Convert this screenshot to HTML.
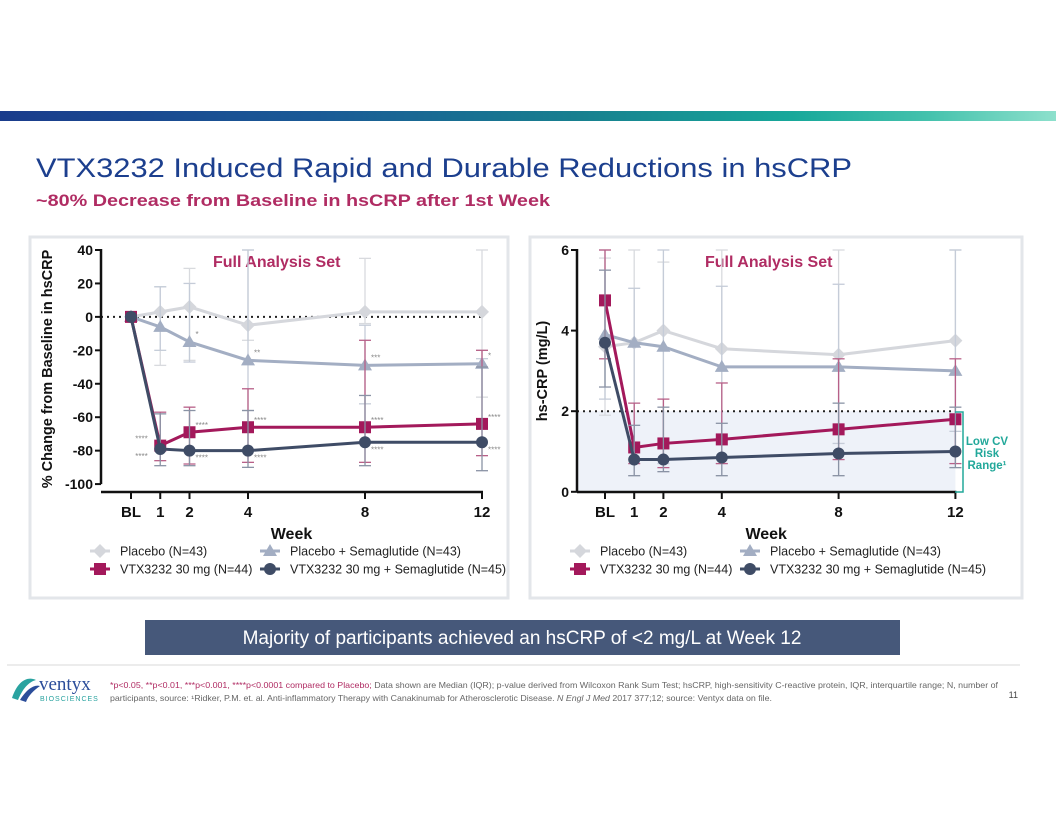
<!DOCTYPE html>
<html><head><meta charset="utf-8">
<style>
body{margin:0;width:1056px;height:816px;background:#fff;overflow:hidden;font-family:"Liberation Sans",sans-serif;position:relative}
.abs{position:absolute}
</style></head>
<body>
<div class="abs" style="left:0;top:111px;width:1056px;height:10px;background:linear-gradient(90deg,#1a3c8c 0%,#1a5a96 30%,#17808f 55%,#17a89a 75%,#45c2ad 88%,#8de0cc 100%)"></div>
<svg class="abs" style="left:0;top:0" width="1056" height="816">
<text x="36" y="177" font-size="27" fill="#1c3f8e" textLength="816" lengthAdjust="spacingAndGlyphs">VTX3232 Induced Rapid and Durable Reductions in hsCRP</text>
<text x="36" y="206" font-size="17" font-weight="bold" fill="#b02c63" textLength="514" lengthAdjust="spacingAndGlyphs">~80% Decrease from Baseline in hsCRP after 1st Week</text>
<rect x="30" y="237" width="478" height="361" fill="#fff" stroke="#e3e6ea" stroke-width="3"/>
<rect x="530" y="237" width="492" height="361" fill="#fff" stroke="#e3e6ea" stroke-width="3"/>
<g id="left"></g>
<g id="right"></g>
<rect x="145" y="620" width="755" height="35" fill="#46587a"/>
<text x="522" y="644" font-size="19" fill="#fff" text-anchor="middle">Majority of participants achieved an hsCRP of &lt;2 mg/L at Week 12</text>
<line x1="7" y1="665" x2="1020" y2="665" stroke="#e6e6e6" stroke-width="1.5"/>
<g>
<path d="M12 698 C18 680 28 676 36 680 C28 682 22 690 18 700 Z" fill="#2aa3a0"/>
<path d="M20 700 C26 690 34 684 40 686 C34 690 28 696 26 702 Z" fill="#2b4d9a"/>
<text x="39" y="690" font-size="19" font-family="Liberation Serif,serif" fill="#2b4d9a">ventyx</text>
<text x="40" y="701" font-size="7" fill="#2aa3a0" letter-spacing="1">BIOSCIENCES</text>
</g>
<text x="110" y="688" font-size="8.2" fill="#666" textLength="888" lengthAdjust="spacingAndGlyphs"><tspan fill="#b02c63">*p&lt;0.05, **p&lt;0.01, ***p&lt;0.001, ****p&lt;0.0001 compared to Placebo;</tspan> Data shown are Median (IQR); p-value derived from Wilcoxon Rank Sum Test; hsCRP, high-sensitivity C-reactive protein, IQR, interquartile range; N, number of</text>
<text x="110" y="701" font-size="8.2" fill="#666" textLength="662" lengthAdjust="spacingAndGlyphs">participants, source: ¹Ridker, P.M. et. al. Anti-inflammatory Therapy with Canakinumab for Atherosclerotic Disease. <tspan font-style="italic">N Engl J Med</tspan> 2017 377;12; source: Ventyx data on file.</text>
<text x="1018" y="698" font-size="9" fill="#444" text-anchor="end">11</text>
</svg>
<script>
const weeks=[0,1,2,4,8,12];
const weekLabels=["BL","1","2","4","8","12"];
// Left chart: % change from baseline
const leftTicks=[40,20,0,-20,-40,-60,-80,-100];
const leftPlacebo=[0,3,6,-5,3,3];
const leftPlaSema=[0,-6,-15,-26,-29,-28];
const leftVtx=[0,-77,-69,-66,-66,-64];
const leftVtxSema=[0,-79,-80,-80,-75,-75];
const leftPlaceboLo=[0,-29,-26,-14,-4,-48];const leftPlaceboHi=[0,18,29,40,35,40];
const leftPlaSemaLo=[0,-20,-27,-56,-52,-25];const leftPlaSemaHi=[0,18,20,40,-5,-20];
const leftVtxLo=[0,-86,-88,-87,-87,-83];const leftVtxHi=[0,-57,-54,-43,-14,-20];
const leftVtxSemaLo=[0,-89,-89,-90,-89,-92];const leftVtxSemaHi=[0,-58,-56,-56,-47,-30];
const leftStarsVtx=["","****","****","****","****","****"];
const leftStarsVtxSema=["","****","****","****","****","****"];
const leftStarsPlaSema=["","","*","**","***","*"];
// Right chart: hs-CRP mg/L
const rightTicks=[6,4,2,0];
const rightPlacebo=[3.6,3.7,4.0,3.55,3.4,3.75];
const rightPlaSema=[3.9,3.7,3.6,3.1,3.1,3.0];
const rightVtx=[4.75,1.1,1.2,1.3,1.55,1.8];
const rightVtxSema=[3.7,0.8,0.8,0.85,0.95,1.0];
const rightPlaceboLo=[1.9,0.4,0.5,0.4,0.4,0.6];const rightPlaceboHi=[5.8,6,5.7,6,6,6];
const rightPlaSemaLo=[2.3,0.8,0.7,0.7,1.2,1.5];const rightPlaSemaHi=[6,5.05,6,5.1,5.15,6];
const rightVtxLo=[3.3,0.7,0.6,0.7,0.8,0.7];const rightVtxHi=[6,2.2,2.3,2.7,3.3,3.3];
const rightVtxSemaLo=[2.6,0.4,0.5,0.4,0.4,0.6];const rightVtxSemaHi=[5.5,1.65,2.1,1.7,2.2,2.1];

const NS="http://www.w3.org/2000/svg";
const C={pla:"#d5d7dc",ps:"#a3aec3",vtx:"#a3195b",vs:"#3f4c66"};
function mk(p,t,a){const e=document.createElementNS(NS,t);for(const k in a)e.setAttribute(k,a[k]);p.appendChild(e);return e;}
function marker(g,type,x,y,c){
 if(type==="d")return mk(g,"path",{d:`M${x} ${y-7}L${x+7} ${y}L${x} ${y+7}L${x-7} ${y}Z`,fill:c});
 if(type==="t")return mk(g,"path",{d:`M${x} ${y-7}L${x+7} ${y+5}L${x-7} ${y+5}Z`,fill:c});
 if(type==="s")return mk(g,"rect",{x:x-6,y:y-6,width:12,height:12,fill:c});
 return mk(g,"circle",{cx:x,cy:y,r:6,fill:c});
}
function chart(g,o){
 const X=w=>o.x0+w*o.px, Y=v=>o.y0+(o.vmax-v)*o.py;
 if(o.band){const r=mk(g,"rect",{x:o.ax,y:Y(2),width:X(12)-o.ax,height:Y(0)-Y(2),fill:"#eef2f9"});
  
  }
 const ref=mk(g,"line",{x1:o.ax,x2:X(12),y1:Y(o.refv),y2:Y(o.refv),stroke:"#222","stroke-width":2,"stroke-dasharray":"2 4"});
 
 
 const ya=mk(g,"line",{x1:o.ax,x2:o.ax,y1:Y(o.vmax)-1,y2:Y(o.vmin),stroke:"#111","stroke-width":2.5});
 
 
 o.ticks.forEach(t=>{mk(g,"line",{x1:o.ax-6,x2:o.ax,y1:Y(t),y2:Y(t),stroke:"#111","stroke-width":2});
  const tx=mk(g,"text",{x:o.ax-8,y:Y(t)+5,"font-size":14,"font-weight":"bold","text-anchor":"end",fill:"#111"});tx.textContent=t;
  
  });
 const xa=mk(g,"line",{x1:o.ax,x2:X(12)+1,y1:o.xaxY,y2:o.xaxY,stroke:"#111","stroke-width":2.5});
 
 
 weeks.forEach((w,i)=>{mk(g,"line",{x1:X(w),x2:X(w),y1:o.xaxY,y2:o.xaxY+7,stroke:"#111","stroke-width":2});
  const tx=mk(g,"text",{x:X(w),y:o.xaxY+25,"font-size":15,"font-weight":"bold","text-anchor":"middle",fill:"#111"});tx.textContent=weekLabels[i];
  
  });
 const wt=mk(g,"text",{x:(o.ax+X(12))/2,y:o.xaxY+47,"font-size":16,"font-weight":"bold","text-anchor":"middle",fill:"#111"});wt.textContent="Week";
 
 
 const yt=mk(g,"text",{x:0,y:0,"font-size":14.5,"font-weight":"bold","text-anchor":"middle",fill:"#111",transform:`translate(${o.ytx},${o.yty}) rotate(-90)`});yt.textContent=o.ytitle;
 
 
 const ft=mk(g,"text",{x:o.ftx,y:Y(o.vmax)+17,"font-size":16,"font-weight":"bold",fill:"#b02c63"});ft.textContent="Full Analysis Set";
 
 
 o.series.forEach(s=>{
  const sg=mk(g,"g",{});
  
  
  weeks.forEach((w,i)=>{if(s.lo[i]===s.hi[i])return;const x=X(w);
   mk(sg,"line",{x1:x,x2:x,y1:Y(Math.min(s.hi[i],o.vmax)),y2:Y(s.lo[i]),stroke:s.ec,"stroke-width":1.3});
   [s.lo[i],s.hi[i]].forEach(v=>{if(v<=o.vmax&&v>o.vmin)mk(sg,"line",{x1:x-6,x2:x+6,y1:Y(v),y2:Y(v),stroke:s.ec,"stroke-width":1.3});});});
  mk(sg,"polyline",{points:weeks.map((w,i)=>X(w)+","+Y(s.v[i])).join(" "),fill:"none",stroke:s.c,"stroke-width":3});
  weeks.forEach((w,i)=>{const m=marker(sg,s.m,X(w),Y(s.v[i]),s.c);
   
   });
  if(s.stars)weeks.forEach((w,i)=>{if(!s.stars[i])return;const t=mk(sg,"text",{x:X(w)+(i===1?-25:6),y:Y(s.v[i])+s.sdy,"font-size":8,fill:"#888","text-anchor":i===1?"start":"start"});t.textContent=s.stars[i];});
 });
 const leg=[["d",C.pla,"Placebo (N=43)",0,0],["t",C.ps,"Placebo + Semaglutide (N=43)",1,0],["s",C.vtx,"VTX3232 30 mg (N=44)",0,1],["c",C.vs,"VTX3232 30 mg + Semaglutide (N=45)",1,1]];
 leg.forEach(l=>{const lg=mk(g,"g",{});
  
  
  const lx=o.lx+l[3]*o.lcol, ly=o.ly+l[4]*18;
  mk(lg,"line",{x1:lx,x2:lx+20,y1:ly,y2:ly,stroke:l[1],"stroke-width":3});marker(lg,l[0],lx+10,ly,l[1]);
  const t=mk(lg,"text",{x:lx+30,y:ly+4.5,"font-size":12.5,fill:"#222"});t.textContent=l[2];});
}
chart(document.getElementById("left"),{x0:131,px:29.25,y0:250,vmax:40,vmin:-100,py:1.672,ax:101,xaxY:492,ticks:leftTicks,refv:0,
 ytitle:"% Change from Baseline in hsCRP",ytx:52,yty:369,ftx:213,lx:90,lcol:170,ly:551,
 series:[
 {name:"series-placebo",v:leftPlacebo,lo:leftPlaceboLo,hi:leftPlaceboHi,c:C.pla,ec:"#d8dade",m:"d"},
 {name:"series-placebo-semaglutide",v:leftPlaSema,lo:leftPlaSemaLo,hi:leftPlaSemaHi,c:C.ps,ec:"#c5ccd8",m:"t",stars:leftStarsPlaSema,sdy:-5},
 {name:"series-vtx3232",v:leftVtx,lo:leftVtxLo,hi:leftVtxHi,c:C.vtx,ec:"#b86088",m:"s",stars:leftStarsVtx,sdy:-4},
 {name:"series-vtx3232-semaglutide",v:leftVtxSema,lo:leftVtxSemaLo,hi:leftVtxSemaHi,c:C.vs,ec:"#8a93a5",m:"c",stars:leftStarsVtxSema,sdy:10}]});
chart(document.getElementById("right"),{x0:605,px:29.2,y0:250,vmax:6,vmin:0,py:40.3,ax:577,xaxY:492,ticks:rightTicks,refv:2,band:true,
 ytitle:"hs-CRP (mg/L)",ytx:547,yty:371,ftx:705,lx:570,lcol:170,ly:551,
 series:[
 {name:"series-placebo",v:rightPlacebo,lo:rightPlaceboLo,hi:rightPlaceboHi,c:C.pla,ec:"#d8dade",m:"d"},
 {name:"series-placebo-semaglutide",v:rightPlaSema,lo:rightPlaSemaLo,hi:rightPlaSemaHi,c:C.ps,ec:"#c5ccd8",m:"t"},
 {name:"series-vtx3232",v:rightVtx,lo:rightVtxLo,hi:rightVtxHi,c:C.vtx,ec:"#b86088",m:"s"},
 {name:"series-vtx3232-semaglutide",v:rightVtxSema,lo:rightVtxSemaLo,hi:rightVtxSemaHi,c:C.vs,ec:"#8a93a5",m:"c"}]});
const rg=document.getElementById("right");
const br=mk(rg,"path",{d:"M955 412 H963 V492 H955",fill:"none",stroke:"#22a89a","stroke-width":1.5});


[["Low CV",445],["Risk",457],["Range¹",469]].forEach(r=>{const t=mk(rg,"text",{x:987,y:r[1],"font-size":11.5,"font-weight":"bold",fill:"#22a89a","text-anchor":"middle"});t.textContent=r[0];
 
 });
</script>
</body></html>
